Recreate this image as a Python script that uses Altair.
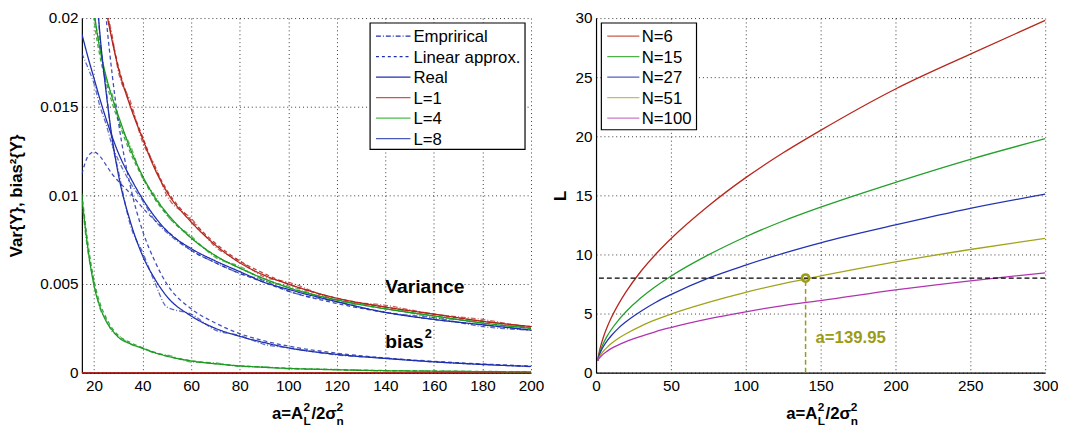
import altair as alt
import pandas as pd

FONT = "Liberation Sans"

# ---------------- Left panel data ----------------
a_left = [15, 17.5, 20, 22.5, 25, 27.5, 30, 35, 40, 45, 50, 60, 70, 80, 90, 100, 120, 140, 160, 180, 200]

var_L1_real = [0.034, 0.0295, 0.026, 0.023, 0.0205, 0.0187, 0.0172, 0.015, 0.0132, 0.0115, 0.0102, 0.0085, 0.0072, 0.0062, 0.0055, 0.0050, 0.0042, 0.0037, 0.0033, 0.0029, 0.0026]
var_L1_lin = [0.0345, 0.030, 0.0263, 0.0232, 0.0207, 0.0188, 0.0173, 0.0151, 0.0133, 0.0116, 0.0103, 0.0086, 0.0073, 0.0063, 0.0056, 0.0050, 0.0042, 0.0037, 0.0033, 0.0029, 0.0026]
var_L1_emp = [0.034, 0.0292, 0.0262, 0.0228, 0.0207, 0.0190, 0.0170, 0.0153, 0.0130, 0.0117, 0.0100, 0.0087, 0.0071, 0.0063, 0.0054, 0.0051, 0.0041, 0.0038, 0.0033, 0.0030, 0.0025]
bias_L1_real = [0.0] * 21
bias_L1_lin = [0.0] * 21
bias_L1_emp = [0.0] * 21

var_L4_real = [0.030, 0.0245, 0.0205, 0.0182, 0.0167, 0.0155, 0.0145, 0.0126, 0.0111, 0.0099, 0.0090, 0.0076, 0.0066, 0.0059, 0.0053, 0.0048, 0.0041, 0.0036, 0.0032, 0.0028, 0.0025]
var_L4_lin = [0.029, 0.024, 0.0200, 0.0178, 0.0164, 0.0152, 0.0142, 0.0124, 0.0110, 0.0098, 0.0089, 0.0076, 0.0066, 0.0059, 0.0053, 0.0048, 0.0041, 0.0036, 0.0032, 0.0028, 0.0025]
var_L4_emp = [0.0295, 0.0248, 0.0203, 0.0185, 0.0165, 0.0157, 0.0143, 0.0128, 0.0110, 0.0100, 0.0089, 0.0077, 0.0065, 0.0060, 0.0052, 0.0049, 0.0040, 0.0037, 0.0031, 0.0029, 0.0025]
bias_L4_real = [0.0099, 0.0070, 0.0049, 0.0037, 0.0029, 0.0024, 0.0020, 0.00163, 0.00137, 0.00113, 0.00093, 0.00066, 0.0005, 0.00038, 0.0003, 0.00024, 0.00016, 0.00011, 0.00008, 0.00006, 0.00004]
bias_L4_lin = [0.0101, 0.0073, 0.0052, 0.0039, 0.0031, 0.0025, 0.0021, 0.0017, 0.0014, 0.00115, 0.00095, 0.00068, 0.00051, 0.00039, 0.00031, 0.00025, 0.00017, 0.00012, 0.00009, 0.00007, 0.00005]
bias_L4_emp = [0.0097, 0.0068, 0.0051, 0.0036, 0.0030, 0.0023, 0.0021, 0.0016, 0.0014, 0.0011, 0.0010, 0.0006, 0.00055, 0.00035, 0.00033, 0.00022, 0.00018, 0.0001, 0.00009, 0.00005, 0.00004]

var_L8_real = [0.0191, 0.0178, 0.0166, 0.0154, 0.0143, 0.0133, 0.0124, 0.0110, 0.0098, 0.0088, 0.0080, 0.0070, 0.0063, 0.0057, 0.0051, 0.0047, 0.0040, 0.0034, 0.0030, 0.0027, 0.0024]
var_L8_lin = [0.0112, 0.0122, 0.01245, 0.0122, 0.0117, 0.0112, 0.0108, 0.0101, 0.0093, 0.0086, 0.0080, 0.0069, 0.0062, 0.0056, 0.0051, 0.0046, 0.0039, 0.0034, 0.0030, 0.0027, 0.0024]
var_L8_emp = [0.0180, 0.0172, 0.0163, 0.0150, 0.0140, 0.0128, 0.0120, 0.0107, 0.0097, 0.0086, 0.0079, 0.0069, 0.0062, 0.0056, 0.0052, 0.0046, 0.0040, 0.0034, 0.0031, 0.0026, 0.0024]
bias_L8_real = [0.034, 0.029, 0.0235, 0.019, 0.0158, 0.0132, 0.0112, 0.0085, 0.0066, 0.0053, 0.0043, 0.0032, 0.0025, 0.00205, 0.0017, 0.0014, 0.00103, 0.0008, 0.00061, 0.00046, 0.00035]
bias_L8_lin = [0.040, 0.034, 0.029, 0.024, 0.0200, 0.0168, 0.0142, 0.0105, 0.0080, 0.0063, 0.0050, 0.0036, 0.0028, 0.0022, 0.0018, 0.0015, 0.0011, 0.00083, 0.00064, 0.00049, 0.00037]
bias_L8_emp = [0.034, 0.0288, 0.0238, 0.0188, 0.0160, 0.0130, 0.0114, 0.0083, 0.0068, 0.0051, 0.0037, 0.0033, 0.0024, 0.0021, 0.0016, 0.0014, 0.0010, 0.00082, 0.0006, 0.00047, 0.00034]

left_x_ticks = [20, 40, 60, 80, 100, 120, 140, 160, 180, 200]
left_y_ticks = [0, 0.005, 0.01, 0.015, 0.02]
left_legend_labels = ["Emprirical", "Linear approx.", "Real", "L=1", "L=4", "L=8"]

# ---------------- Right panel data ----------------
a_right = [1, 2, 3, 5, 7.5, 10, 15, 20, 30, 40, 50, 75, 100, 125, 150, 200, 250, 300]
L_N6 = [1, 1.68, 2.2, 3.04, 3.88, 4.6, 5.8, 6.83, 8.58, 10.04, 11.33, 14.1, 16.5, 18.6, 20.5, 24.0, 26.95, 29.8]
L_N15 = [1, 1.51, 1.9, 2.51, 3.11, 3.61, 4.45, 5.15, 6.33, 7.31, 8.16, 9.96, 11.5, 12.83, 14.0, 16.1, 18.05, 19.8]
L_N27 = [1, 1.42, 1.74, 2.23, 2.71, 3.1, 3.77, 4.31, 5.2, 5.96, 6.6, 7.99, 9.1, 10.1, 10.99, 12.5, 13.9, 15.1]
L_N51 = [1, 1.28, 1.5, 1.83, 2.16, 2.44, 2.91, 3.29, 3.94, 4.48, 4.96, 5.95, 6.8, 7.53, 8.18, 9.37, 10.42, 11.36]
L_N100 = [1, 1.2, 1.34, 1.59, 1.82, 2.03, 2.35, 2.62, 3.07, 3.48, 3.82, 4.55, 5.15, 5.68, 6.1, 7.0, 7.77, 8.45]
right_labels = ["N=6", "N=15", "N=27", "N=51", "N=100"]
right_x_ticks = [0, 50, 100, 150, 200, 250, 300]
right_y_ticks = [0, 5, 10, 15, 20, 25, 30]
L_target = 8
a_found = 139.95

# ---------------- styles ----------------
W, H = 456, 360
L_NAMES = ["L=1", "L=4", "L=8"]
L_COLORS = ["#b3231c", "#1e9a22", "#1d2fae"]
KINDS = ["Empirical", "Linear", "Real"]
KIND_DASH = [[5, 2, 1, 2], [4, 3], [1, 0]]
KIND_OPAC = [0.7, 1.0, 1.0]
N_COLORS = ["#b8261c", "#22a02a", "#2233b0", "#a3a31a", "#b233b2"]
OLIVE = "#9c9c14"

left_curves = [
    ("L=1", "Empirical", "var", var_L1_emp), ("L=1", "Empirical", "bias", bias_L1_emp),
    ("L=4", "Empirical", "var", var_L4_emp), ("L=4", "Empirical", "bias", bias_L4_emp),
    ("L=8", "Empirical", "var", var_L8_emp), ("L=8", "Empirical", "bias", bias_L8_emp),
    ("L=1", "Linear", "var", var_L1_lin), ("L=1", "Linear", "bias", bias_L1_lin),
    ("L=4", "Linear", "var", var_L4_lin), ("L=4", "Linear", "bias", bias_L4_lin),
    ("L=8", "Linear", "var", var_L8_lin), ("L=8", "Linear", "bias", bias_L8_lin),
    ("L=1", "Real", "var", var_L1_real), ("L=1", "Real", "bias", bias_L1_real),
    ("L=4", "Real", "var", var_L4_real), ("L=4", "Real", "bias", bias_L4_real),
    ("L=8", "Real", "var", var_L8_real), ("L=8", "Real", "bias", bias_L8_real),
]
rows = []
for i, (Ln, kind, q, vals) in enumerate(left_curves):
    for a, v in zip(a_left, vals):
        rows.append({"a": a, "v": v, "L": Ln, "kind": kind, "curve": f"{i:02d}"})
left_df = pd.DataFrame(rows)

rrows = []
for lab, vals in zip(right_labels, [L_N6, L_N15, L_N27, L_N51, L_N100]):
    for a, v in zip(a_right, vals):
        rrows.append({"a": a, "L": v, "N": lab})
right_df = pd.DataFrame(rrows)

one = pd.DataFrame({"k": [0]})


def x_axis(vals):
    return alt.Axis(values=vals, title=None, grid=True, ticks=False, labelPadding=6,
                    labelFlush=False)


def x_title():
    cx = W / 2 - 35
    by = H + 47
    parts = [("a=A", cx, by, 17, "bold"), ("2", cx + 32, by - 8, 12, "bold"),
             ("L", cx + 32, by + 6, 12, "bold"), ("/2σ", cx + 40, by, 17, "bold"),
             ("2", cx + 65.5, by - 8, 12, "bold"), ("n", cx + 65.5, by + 6, 12, "bold")]
    return [alt.Chart(one).mark_text(text=t, align="left", baseline="alphabetic", font=FONT,
                                     fontSize=fs, fontWeight=fw, color="black")
            .encode(x=alt.value(x), y=alt.value(y)) for t, x, y, fs, fw in parts]


def legend_box(x0, x1, y0, y1):
    return alt.Chart(one).mark_rect(fill="white", stroke="black", strokeWidth=1.2).encode(
        x=alt.value(x0), x2=alt.value(x1), y=alt.value(y0), y2=alt.value(y1))


def legend_rows(labels, colors, dashes, lx0, lx1, tx, y0, dy):
    layers = []
    for i, (lab, col, d) in enumerate(zip(labels, colors, dashes)):
        y = y0 + i * dy
        layers.append(alt.Chart(one).mark_rule(color=col, strokeDash=d, strokeWidth=1.3).encode(
            x=alt.value(lx0), x2=alt.value(lx1), y=alt.value(y)))
        layers.append(alt.Chart(one).mark_text(text=lab, align="left", baseline="middle", font=FONT,
                                               fontSize=17, color="black").encode(
            x=alt.value(tx), y=alt.value(y + 1)))
    return layers


# ---------------- left chart ----------------
xl = alt.X("a:Q", scale=alt.Scale(domain=[15, 200], nice=False, zero=False), axis=x_axis(left_x_ticks))
yl = alt.Y("v:Q", scale=alt.Scale(domain=[0, 0.02], nice=False),
           axis=alt.Axis(values=left_y_ticks, format="~g", title="Var{Y}, bias²{Y}", grid=True,
                         ticks=False, labelPadding=4, titlePadding=14))

left_lines = alt.Chart(left_df).mark_line(clip=True, strokeWidth=1.3, interpolate="monotone").encode(
    x=xl, y=yl,
    color=alt.Color("L:N", scale=alt.Scale(domain=L_NAMES, range=L_COLORS), legend=None),
    strokeDash=alt.StrokeDash("kind:N", scale=alt.Scale(domain=KINDS, range=KIND_DASH), legend=None),
    opacity=alt.Opacity("kind:N", scale=alt.Scale(domain=KINDS, range=KIND_OPAC), legend=None),
    detail="curve:N",
)

ann_var = alt.Chart(one).mark_text(text="Variance", align="left", baseline="middle", font=FONT,
                                   fontSize=19.5, fontWeight="bold", color="black").encode(
    x=alt.datum(140), y=alt.datum(0.00485))
ann_bias = alt.Chart(one).mark_text(text="bias", align="left", baseline="middle", font=FONT,
                                    fontSize=19.5, fontWeight="bold", color="black").encode(
    x=alt.datum(140), y=alt.datum(0.0017))
ann_bias2 = alt.Chart(one).mark_text(text="2", align="left", baseline="middle", font=FONT,
                                     fontSize=13, fontWeight="bold", color="black", dx=40, dy=-9).encode(
    x=alt.datum(140), y=alt.datum(0.0017))

blue = L_COLORS[2]
left_leg = [legend_box(292.6, 449.9, 5, 133.4)] + legend_rows(
    left_legend_labels,
    [blue, blue, blue, "#c9554d", "#4cbb4c", "#4a58b8"],
    [[5, 2, 1, 2], [3, 3], [1, 0], [1, 0], [1, 0], [1, 0]],
    298.6, 333.6, 336.6, 18.4, 20.8)

left = alt.layer(left_lines, ann_var, ann_bias, ann_bias2, *left_leg, *x_title()).properties(
    width=W, height=H)

# ---------------- right chart ----------------
xr = alt.X("a:Q", scale=alt.Scale(domain=[0, 300], nice=False), axis=x_axis(right_x_ticks))
yr = alt.Y("L:Q", scale=alt.Scale(domain=[0, 30], nice=False),
           axis=alt.Axis(values=right_y_ticks, title="L", grid=True, ticks=False, labelPadding=4,
                         titlePadding=6, titleAngle=-90))

right_lines = alt.Chart(right_df).mark_line(strokeWidth=1.3, interpolate="monotone").encode(
    x=xr, y=yr,
    color=alt.Color("N:N", scale=alt.Scale(domain=right_labels, range=N_COLORS), legend=None),
)
hline = alt.Chart(one).mark_rule(color="black", strokeDash=[5, 3], strokeWidth=1.2).encode(
    y=alt.datum(L_target))
vline = alt.Chart(one).mark_rule(color=OLIVE, strokeDash=[5, 3], strokeWidth=1.5).encode(
    x=alt.datum(a_found), y=alt.datum(0), y2=alt.datum(L_target))
marker = alt.Chart(one).mark_point(shape="circle", size=55, strokeWidth=2.6, color=OLIVE,
                                   filled=False, opacity=1).encode(
    x=alt.datum(a_found), y=alt.datum(L_target))
ann_a = alt.Chart(one).mark_text(text=f"a={a_found}", align="left", baseline="middle", font=FONT,
                                 fontSize=17, fontWeight="bold", color=OLIVE).encode(
    x=alt.datum(146.6), y=alt.datum(2.9))

right_leg = [legend_box(5.4, 102, 5, 113.4)] + legend_rows(
    right_labels, ["#c85a50", "#4cb04c", "#5060c0", "#c0c060", "#cc77cc"],
    [[1, 0]] * 5, 11.4, 44, 46.4, 18.4, 20.8)

right = alt.layer(right_lines, hline, vline, marker, ann_a, *right_leg, *x_title()).properties(
    width=W, height=H)

chart = alt.hconcat(left, right, spacing=7).resolve_scale(
    color="independent"
).configure_view(stroke=None).configure_axis(
    labelFont=FONT, labelFontSize=15.5, labelColor="black",
    titleFont=FONT, titleFontSize=17, titleFontWeight="bold", titleColor="black",
    gridColor="#222222", gridDash=[1, 3], gridWidth=1, gridOpacity=0.9,
    domainColor="black", domainWidth=1.2,
).properties(padding={"left": 0, "top": 0, "right": 0, "bottom": 0})

chart.save("out.html", embed_options={"renderer": "svg", "actions": False})
